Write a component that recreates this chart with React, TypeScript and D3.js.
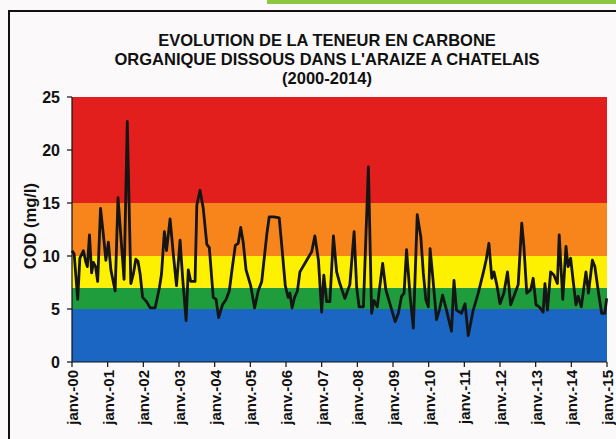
import React from "react";
import * as d3 from "d3";

const years = ["00","01","02","03","04","05","06","07","08","09","10","11","12","13","14","15"];
const yTicks = [0, 5, 10, 15, 20, 25];
const bands = [
  { from: 0, to: 5, color: "#1b66c2" },
  { from: 5, to: 7, color: "#1f9d3c" },
  { from: 7, to: 10, color: "#fdf100" },
  { from: 10, to: 15, color: "#f7851c" },
  { from: 15, to: 25, color: "#e21f1d" },
];
// time in years since janv. 2000
const times = [
  0.00,0.06,0.16,0.22,0.32,0.39,0.43,0.49,0.55,0.60,0.66,0.72,0.80,0.88,0.95,1.02,1.09,1.21,1.29,1.36,1.46,1.55,1.65,1.72,1.79,1.85,1.91,1.98,
  2.09,2.19,2.33,2.45,2.51,2.59,2.65,2.75,2.84,2.93,3.03,3.10,3.20,3.26,3.33,3.45,3.50,3.59,3.68,3.78,3.85,3.96,
  4.04,4.11,4.22,4.32,4.41,4.49,4.58,4.66,4.73,4.80,4.88,5.01,5.12,5.22,5.32,5.46,5.53,5.66,5.81,5.91,5.98,
  6.06,6.11,6.17,6.24,6.32,6.39,6.58,6.72,6.81,6.91,7.00,7.06,7.14,7.23,7.33,7.42,7.51,7.65,7.79,7.91,7.98,
  8.05,8.17,8.31,8.40,8.47,8.56,8.71,8.80,8.94,9.06,9.15,9.24,9.31,9.38,9.48,9.57,9.68,9.78,9.85,9.92,9.99,
  10.04,10.11,10.22,10.30,10.39,10.50,10.64,10.71,10.78,10.92,11.02,11.11,11.25,11.39,11.53,11.61,11.69,11.77,11.83,11.91,
  12.00,12.11,12.21,12.30,12.39,12.51,12.61,12.67,12.75,12.86,12.93,13.01,13.10,13.21,13.26,13.33,13.42,13.51,13.61,13.66,13.76,13.85,13.91,13.98,
  14.05,14.13,14.19,14.28,14.41,14.48,14.59,14.66,14.75,14.85,14.94,14.99,
];
const cod = [
  10.5,10.2,5.9,9.8,10.5,9.4,9.0,12.0,8.4,9.4,9.0,7.6,14.5,12.0,9.6,11.3,8.7,6.7,15.5,12.3,7.8,22.7,7.4,8.3,9.7,9.5,8.3,6.1,
  5.7,5.1,5.1,7.0,8.3,12.3,10.5,13.5,10.2,7.2,11.5,8.0,3.9,8.7,7.6,7.6,14.8,16.2,14.5,11.1,10.8,6.1,
  5.9,4.2,5.4,5.9,6.7,8.8,11.0,11.2,12.7,11.3,8.7,7.2,5.1,6.7,7.6,12.0,13.7,13.7,13.6,9.9,7.2,
  6.1,6.5,5.1,6.1,6.7,8.5,9.6,10.4,11.9,9.6,4.7,8.2,5.7,5.7,11.9,8.5,7.4,6.0,7.3,12.3,7.1,
  5.2,5.2,18.4,4.6,5.8,5.2,9.3,6.8,5.2,3.8,4.6,6.2,6.5,10.6,6.2,3.2,13.9,11.8,8.4,5.9,5.2,
  10.7,8.2,4.0,4.9,6.3,4.9,2.9,7.7,4.9,4.6,5.5,2.5,4.9,6.5,8.4,9.6,11.2,7.9,8.5,7.3,
  5.5,6.5,8.5,5.4,6.2,7.3,13.1,10.9,6.5,6.8,7.9,5.4,5.2,4.7,7.4,4.9,8.5,8.2,7.4,12.0,5.9,10.9,9.0,9.8,
  7.7,5.4,6.2,5.2,8.5,6.5,9.6,9.0,6.8,4.6,4.6,6.0,
];
const titleLines = [
  "EVOLUTION DE LA TENEUR EN CARBONE",
  "ORGANIQUE DISSOUS DANS L'ARAIZE A CHATELAIS",
  "(2000-2014)",
];

export default function App() {
  const W = 616, H = 439;
  const left = 72, right = 607, top = 97, bottom = 362;
  const x = d3.scaleLinear().domain([0, 15]).range([left, right]);
  const y = d3.scaleLinear().domain([0, 25]).range([bottom, top]);
  const line = d3.line<number>().x((_, i) => x(times[i])).y((d) => y(d));
  const font = "'Liberation Sans', Arial, sans-serif";
  return (
    <svg width={W} height={H} style={{ position: "absolute", left: 0, top: 0 }} fontFamily={font}>
      <rect x={0} y={0} width={W} height={H} fill="#fbf9f9" />
      <rect x={267} y={0} width={W - 267} height={4} fill="#8dc63f" />
      <line x1={8} y1={11} x2={W} y2={11} stroke="#111" strokeWidth={2} />
      <line x1={9} y1={10} x2={9} y2={H} stroke="#111" strokeWidth={2} />
      {titleLines.map((t, i) => (
        <text key={i} x={327} y={46 + i * 19} textAnchor="middle" fontSize={16.5} fontWeight="bold" fill="#111">
          {t}
        </text>
      ))}
      {bands.map((b, i) => (
        <rect key={i} x={left} width={right - left} y={y(b.to)} height={y(b.from) - y(b.to)} fill={b.color} />
      ))}
      <path d={line(cod) || ""} fill="none" stroke="#151515" strokeWidth={2.8} strokeLinejoin="round" />
      <line x1={left} y1={top} x2={left} y2={bottom} stroke="#111" strokeWidth={1.2} />
      <line x1={left} y1={bottom} x2={right} y2={bottom} stroke="#111" strokeWidth={1.2} />
      {yTicks.map((t) => (
        <g key={t}>
          <line x1={left - 5} x2={left} y1={y(t)} y2={y(t)} stroke="#111" strokeWidth={1.2} />
          <text x={left - 12} y={y(t) + 6} textAnchor="end" fontSize={16} fontWeight="bold" fill="#111">
            {t}
          </text>
        </g>
      ))}
      {years.map((yr, i) => (
        <g key={yr}>
          <line x1={x(i)} x2={x(i)} y1={bottom} y2={bottom + 5} stroke="#111" strokeWidth={1.2} />
          <text
            transform={`translate(${x(i) + 6},${bottom + 8}) rotate(-90)`}
            textAnchor="end"
            fontSize={15}
            fontWeight="bold"
            fill="#111"
          >
            {`janv.-${yr}`}
          </text>
        </g>
      ))}
      <text transform={`translate(36,${y(13) + 2}) rotate(-90)`} textAnchor="middle" fontSize={16.5} fontWeight="bold" fill="#111">
        COD (mg/l)
      </text>
    </svg>
  );
}
